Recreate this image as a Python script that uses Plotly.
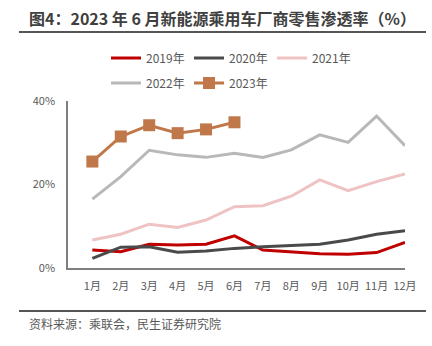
import plotly.graph_objects as go

months = ["1月", "2月", "3月", "4月", "5月", "6月", "7月", "8月", "9月", "10月", "11月", "12月"]
y2019 = [4.3, 3.9, 5.7, 5.5, 5.7, 7.7, 4.3, 3.9, 3.4, 3.3, 3.7, 6.1]
y2020 = [2.3, 5.0, 5.1, 3.8, 4.1, 4.7, 5.1, 5.4, 5.7, 6.7, 8.1, 8.9]
y2021 = [6.7, 8.1, 10.5, 9.7, 11.5, 14.7, 14.9, 17.2, 21.1, 18.5, 20.7, 22.5]
y2022 = [16.5, 21.9, 28.2, 27.1, 26.5, 27.5, 26.5, 28.3, 31.9, 30.1, 36.4, 29.3]
y2023 = [25.5, 31.5, 34.2, 32.3, 33.2, 34.9]

W, H = 432, 346
L, R, T, B = 68, 27, 101, 78
PW, PH = W - L - R, H - T - B

def px(x):
    return (x - L) / PW

def py(y):
    return (H - B - y) / PH

FONT = "Noto Sans CJK SC"
TXT = "#595959"

fig = go.Figure()
fig.add_trace(go.Scatter(x=months, y=y2019, name="2019年", mode="lines",
                         line=dict(color="#C00000", width=3), legend="legend"))
fig.add_trace(go.Scatter(x=months, y=y2020, name="2020年", mode="lines",
                         line=dict(color="#4A4A4A", width=3), legend="legend"))
fig.add_trace(go.Scatter(x=months, y=y2021, name="2021年", mode="lines",
                         line=dict(color="#EFC3C3", width=3), legend="legend"))
fig.add_trace(go.Scatter(x=months, y=y2022, name="2022年", mode="lines",
                         line=dict(color="#B8B8B8", width=3), legend="legend2"))
fig.add_trace(go.Scatter(x=months[:len(y2023)], y=y2023, name="2023年", mode="lines+markers",
                         line=dict(color="#C0784A", width=3),
                         marker=dict(symbol="square", size=12, color="#C0784A"),
                         legend="legend2"))

legend_common = dict(orientation="h", xanchor="left", yanchor="middle",
                     font=dict(family=FONT, size=12, color=TXT),
                     bgcolor="rgba(0,0,0,0)", entrywidth=38, entrywidthmode="pixels",
                     tracegroupgap=0, itemwidth=30)

fig.update_layout(
    width=W, height=H,
    margin=dict(l=L, r=R, t=T, b=B, pad=0),
    paper_bgcolor="white", plot_bgcolor="white",
    font=dict(family=FONT, size=11, color=TXT),
    showlegend=True,
    legend=dict(x=px(106), y=py(58), **legend_common),
    legend2=dict(x=px(106), y=py(83), **legend_common),
    xaxis=dict(showgrid=False, showline=True, linecolor="#7F7F7F", linewidth=1.5,
               ticks="", tickfont=dict(family=FONT, size=11, color=TXT),
               ticklabelstandoff=7, fixedrange=True),
    yaxis=dict(range=[0, 40], tickvals=[0, 20, 40], ticktext=["0%", "20%", "40%"],
               showgrid=False, zeroline=False, showline=True, linecolor="#7F7F7F", linewidth=1.5,
               ticks="", tickfont=dict(family=FONT, size=11, color=TXT),
               ticklabelstandoff=9, fixedrange=True),
    annotations=[
        dict(text="<b>图4：2023 年 6 月新能源乘用车厂商零售渗透率（%）</b>",
             x=px(27), y=py(18), xref="paper", yref="paper", xanchor="left", yanchor="middle",
             showarrow=False, font=dict(family=FONT, size=16, color="#404040")),
        dict(text="资料来源：乘联会，民生证券研究院",
             x=px(27), y=py(323), xref="paper", yref="paper", xanchor="left", yanchor="middle",
             showarrow=False, font=dict(family=FONT, size=12, color=TXT)),
    ],
    shapes=[
        dict(type="line", xref="paper", yref="paper", x0=px(19), x1=px(426), y0=py(32), y1=py(32),
             line=dict(color="#555555", width=2)),
        dict(type="line", xref="paper", yref="paper", x0=px(19), x1=px(426), y0=py(311), y1=py(311),
             line=dict(color="#555555", width=2)),
    ],
)

fig.write_html("out.html")
